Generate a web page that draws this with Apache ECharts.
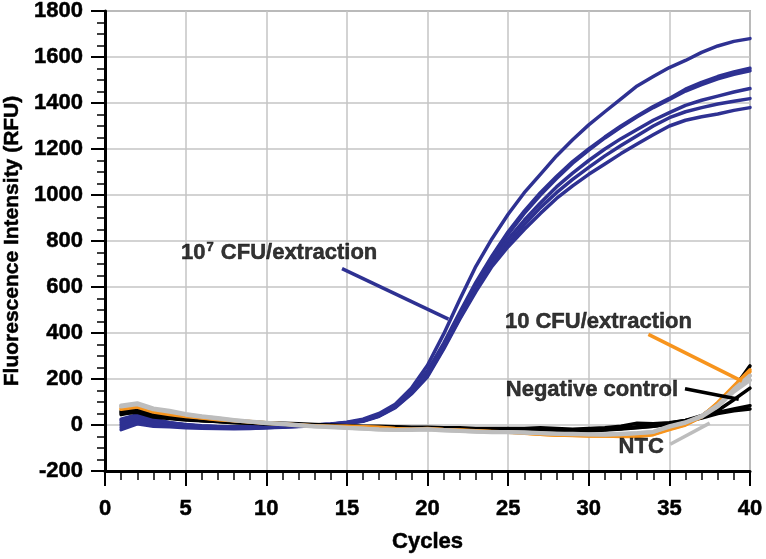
<!DOCTYPE html>
<html>
<head>
<meta charset="utf-8">
<script src="https://cdn.jsdelivr.net/npm/echarts@6/dist/echarts.min.js"></script>
<style>html,body{margin:0;padding:0;background:#fff}#c{width:766px;height:559px}</style>
</head>
<body>
<div id="c"></div>
<script>
// cycles 1..40
var cycles = [1,2,3,4,5,6,7,8,9,10,11,12,13,14,15,16,17,18,19,20,21,22,23,24,25,26,27,28,29,30,31,32,33,34,35,36,37,38,39,40];

// 10^7 CFU/extraction replicates (blue)
var blue1 = [20,42,25,10,0,-5,-8,-8,-10,-8,-5,-3,0,4,12,25,50,90,160,260,395,546,690,810,916,1010,1090,1170,1240,1305,1362,1418,1474,1515,1554,1585,1620,1648,1668,1680];
var blue2 = [25,45,25,10,2,-3,-6,-8,-8,-6,-4,-2,0,3,10,22,45,85,150,235,355,490,620,735,840,930,1010,1080,1145,1200,1252,1300,1343,1385,1420,1460,1490,1515,1535,1551];
var blue3 = [10,35,20,8,0,-5,-8,-10,-10,-8,-6,-3,0,3,10,20,43,82,145,228,348,482,612,726,830,920,1000,1072,1138,1195,1248,1295,1340,1380,1415,1452,1480,1505,1525,1540];
var blue4 = [0,25,10,0,-5,-8,-10,-12,-12,-10,-8,-5,-2,2,8,18,40,80,140,222,340,470,600,710,808,890,965,1035,1095,1150,1200,1245,1285,1325,1358,1390,1412,1430,1448,1463];
var blue5 = [-10,15,5,-3,-8,-10,-12,-14,-14,-12,-8,-5,-2,2,8,18,40,78,138,216,335,465,590,700,790,870,945,1010,1068,1120,1170,1215,1258,1300,1336,1362,1380,1396,1408,1419];
var blue6 = [-20,5,-5,-8,-12,-14,-15,-16,-15,-12,-10,-6,-3,1,7,16,38,75,135,210,330,460,580,690,775,850,920,985,1040,1090,1135,1180,1222,1262,1300,1325,1340,1352,1368,1380];

// Negative control (black)
var neg1 = [60,70,50,40,30,25,20,15,12,10,8,5,2,0,-3,-5,-5,-8,-10,-10,-12,-12,-15,-15,-15,-15,-12,-15,-18,-15,-12,-5,8,5,10,20,40,90,160,257];
var neg2 = [50,55,35,28,22,18,15,12,10,5,3,0,-3,-5,-8,-8,-10,-12,-15,-15,-18,-20,-20,-22,-22,-25,-25,-28,-25,-22,-20,-15,-10,-5,5,18,35,63,110,160];
var neg3 = [45,60,40,30,25,20,15,10,8,5,3,0,-2,-5,-6,-8,-10,-10,-12,-14,-15,-16,-18,-20,-20,-22,-24,-25,-25,-24,-20,-15,-8,-2,8,20,35,55,70,84];
var neg4 = [55,62,42,32,26,20,16,12,9,6,4,1,-2,-4,-6,-8,-9,-11,-13,-14,-16,-18,-20,-21,-22,-24,-26,-27,-28,-26,-22,-17,-12,-6,4,16,30,50,62,70];

// 10 CFU/extraction (orange)
var low1 = [72,82,60,50,40,32,25,20,15,10,5,0,-3,-5,-5,-8,-10,-15,-18,-15,-20,-22,-25,-28,-30,-35,-40,-45,-45,-48,-48,-50,-50,-42,-20,0,35,98,170,240];
var low2 = [68,78,56,46,37,30,23,18,13,8,4,0,-4,-6,-7,-9,-12,-16,-18,-17,-21,-23,-26,-29,-32,-36,-40,-44,-46,-47,-48,-49,-48,-40,-18,2,38,95,165,232];

// NTC (grey)
var ntc1 = [85,95,72,62,48,38,30,22,15,10,5,0,-5,-8,-12,-15,-20,-22,-20,-18,-22,-25,-28,-30,-30,-32,-35,-38,-38,-40,-40,-38,-35,-30,-5,12,40,86,155,215];
var ntc2 = [80,90,68,58,45,36,28,20,14,8,3,-2,-6,-10,-13,-16,-20,-22,-22,-20,-24,-26,-29,-31,-32,-34,-36,-38,-40,-41,-42,-40,-36,-30,-8,10,36,80,145,195];

// axis ticks
var xTicks = [0,5,10,15,20,25,30,35,40];
var yTicks = [-200,0,200,400,600,800,1000,1200,1400,1600,1800];

// annotations: [x, y] data coordinates
var annoText = ['{a|10}{s|7}{a| CFU/extraction}', '10 CFU/extraction', 'Negative control', 'NTC'];
var annoPos = [[10.8, 746], [30.6, 446], [30.2, 151], [33.25, -97]];
var pointerBlue = [[14.7, 680], [21.3, 460]];
var pointerOrange = [[33.7, 394], [39.5, 191]];
var pointerBlack = [[35.97, 158], [39.3, 112]];
var pointerGray = [[35.05, -84], [37.5, 8]];

var BLUE = '#2e3192', ORANGE = '#f7941d', GRAY = '#bdbdbd', BLACK = '#000000';
var FONT = '"Liberation Sans", Arial, sans-serif';
var TB = { textBorderColor: '#000', textBorderWidth: 0.5 };

function pairs(arr) { return cycles.map(function (c, i) { return [c, arr[i]]; }); }
function lineSeries(arr, color, width) {
  return { type: 'line', data: pairs(arr), showSymbol: false, symbol: 'none', smooth: false,
    lineStyle: { color: color, width: width, join: 'round', cap: 'round' }, silent: true, animation: false };
}
function pointer(pts, color, width) {
  return { type: 'line', data: pts, showSymbol: false, symbol: 'none',
    lineStyle: { color: color, width: width }, silent: true, animation: false, z: 5 };
}
function txt(size, extra) {
  var o = { fontFamily: FONT, fontWeight: 'bold', fontSize: size, color: '#000',
    textBorderColor: TB.textBorderColor, textBorderWidth: TB.textBorderWidth };
  for (var k in (extra || {})) o[k] = extra[k];
  return o;
}

var series = [];
[blue6, blue5, blue4, blue3, blue2, blue1].forEach(function (a) { series.push(lineSeries(a, BLUE, 3.5)); });
[neg4, neg3, neg2, neg1].forEach(function (a) { series.push(lineSeries(a, BLACK, 3.5)); });
[low2, low1].forEach(function (a) { series.push(lineSeries(a, ORANGE, 3.5)); });
[ntc2, ntc1].forEach(function (a) { series.push(lineSeries(a, GRAY, 4)); });
series.push(pointer(pointerBlue, BLUE, 3.5));
series.push(pointer(pointerOrange, ORANGE, 3.5));
series.push(pointer(pointerBlack, BLACK, 3.5));
series.push(pointer(pointerGray, GRAY, 3.5));
series.push({
  type: 'scatter', symbolSize: 0, silent: true, animation: false, z: 10,
  data: annoPos.map(function (p, i) { return { value: p, label: { formatter: annoText[i] } }; }),
  label: txt(22, {
    show: true, position: 'inside',
    rich: {
      a: txt(22),
      s: txt(13, { padding: [0, 1, 12, 1] })
    }
  })
});

var chart = echarts.init(document.getElementById('c'), null, { renderer: 'canvas' });
chart.setOption({
  backgroundColor: '#fff',
  animation: false,
  grid: { left: 105, right: 16, top: 11, bottom: 88, containLabel: false, outerBoundsMode: 'none',
    show: true, borderColor: '#7a7a7a', borderWidth: 1.5, backgroundColor: 'transparent' },
  xAxis: {
    type: 'value', min: xTicks[0], max: xTicks[xTicks.length - 1], interval: 5,
    name: 'Cycles', nameLocation: 'middle', nameGap: 60,
    nameTextStyle: txt(22),
    axisLine: { onZero: false, lineStyle: { color: '#000', width: 3 } },
    axisTick: { show: true, inside: false, length: 15, lineStyle: { color: '#000', width: 2 } },
    minorTick: { show: true, splitNumber: 5, length: 9, lineStyle: { color: '#000', width: 1.5 } },
    splitLine: { show: true, lineStyle: { color: '#c4c4c4', width: 1.5 } },
    axisLabel: txt(22, { margin: 27, formatter: function (v) { return String(v); } })
  },
  yAxis: {
    type: 'value', min: yTicks[0], max: yTicks[yTicks.length - 1], interval: 200,
    name: 'Fluorescence Intensity (RFU)', nameLocation: 'middle', nameGap: 78,
    nameTextStyle: txt(21),
    axisLine: { onZero: false, lineStyle: { color: '#000', width: 3 } },
    axisTick: { show: true, inside: false, length: 14, lineStyle: { color: '#000', width: 2 } },
    minorTick: { show: true, splitNumber: 4, length: 8, lineStyle: { color: '#000', width: 1.5 } },
    splitLine: { show: true, lineStyle: { color: '#c4c4c4', width: 1.5 } },
    axisLabel: txt(22, { margin: 22, formatter: function (v) { return String(v); } })
  },
  series: series
});
</script>
</body>
</html>
